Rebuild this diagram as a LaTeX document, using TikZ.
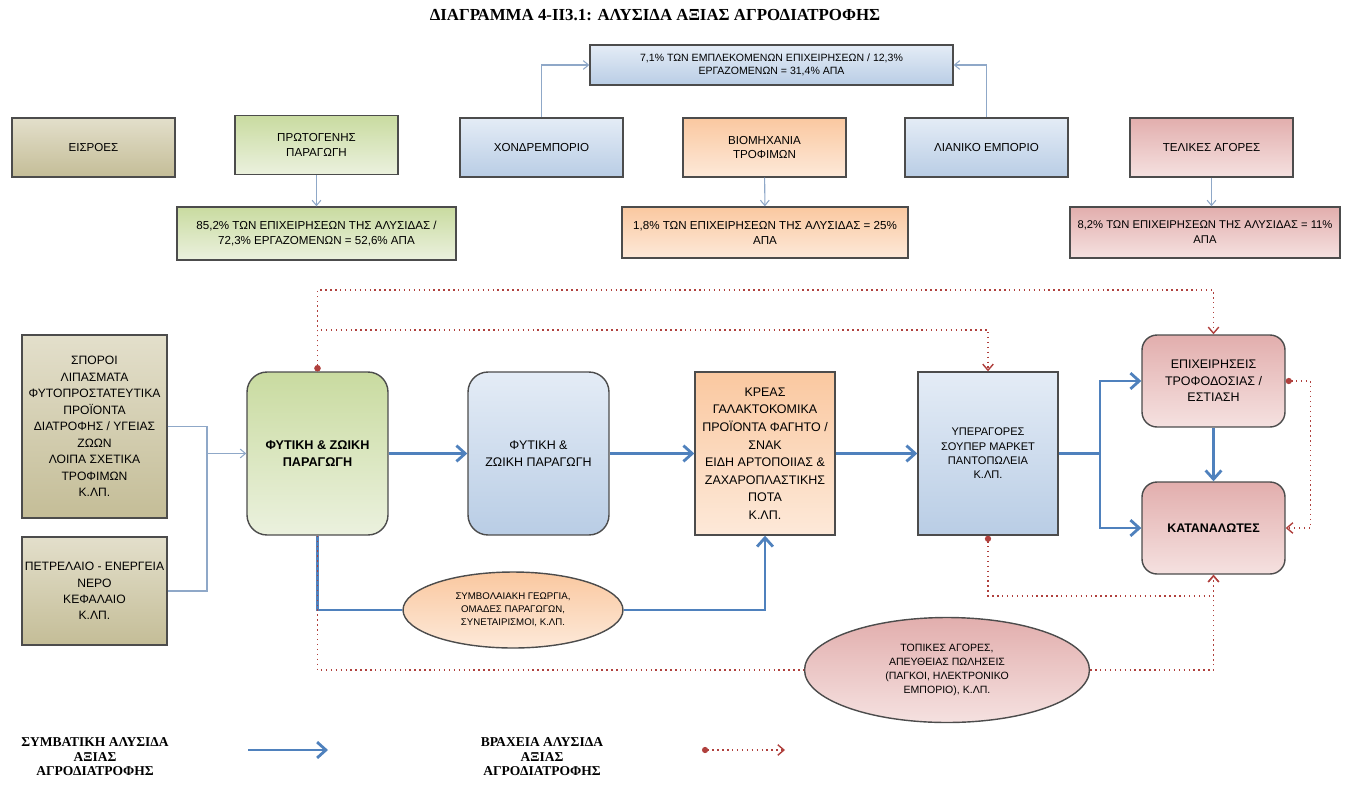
\documentclass[tikz,border=0pt]{standalone}
\usepackage{fontspec}
\setmainfont{Liberation Serif}
\setsansfont{Liberation Sans}
\usetikzlibrary{arrows.meta,shapes.geometric}

\definecolor{tanlight}{HTML}{E3DFCB}
\definecolor{tandark}{HTML}{C4BD97}
\definecolor{greenlight}{HTML}{EBF1DE}
\definecolor{greendark}{HTML}{C9DBA0}
\definecolor{bluelight}{HTML}{E4ECF6}
\definecolor{bluedark}{HTML}{B9CDE5}
\definecolor{orangelight}{HTML}{FDE9D9}
\definecolor{orangedark}{HTML}{FAC8A0}
\definecolor{pinklight}{HTML}{F5E1E0}
\definecolor{pinkdark}{HTML}{E2AEAD}
\definecolor{flowblue}{HTML}{4F81BD}
\definecolor{linkblue}{HTML}{8FA8C8}
\definecolor{shortred}{HTML}{B0403D}

\begin{document}
\begin{tikzpicture}[x=0.02cm, y=-0.02cm,
    box/.style={draw=black!70, line width=0.8pt, align=center,
        font=\sffamily\fontsize{6.6}{8.5}\selectfont, inner sep=2pt},
    tanbox/.style={box, top color=tanlight, bottom color=tandark},
    greenbox/.style={box, top color=greendark, bottom color=greenlight},
    bluebox/.style={box, top color=bluelight, bottom color=bluedark},
    orangebox/.style={box, top color=orangedark, bottom color=orangelight},
    pinkbox/.style={box, top color=pinkdark, bottom color=pinklight},
    topbox/.style={minimum width=3.26cm, minimum height=1.18cm},
    chainbox/.style={minimum width=2.82cm, minimum height=3.26cm},
    flow/.style={draw=flowblue, line width=1.6pt, -{Straight Barb[length=5pt,width=9pt]}},
    link/.style={draw=linkblue, line width=0.6pt},
    linkarrow/.style={link, -{Straight Barb[length=3pt,width=5pt]}},
    shortchain/.style={draw=shortred, line width=0.8pt, dotted,
        {Circle[length=3.5pt]}-{Straight Barb[length=3.5pt,width=6pt]}},
    legend/.style={align=center, font=\rmfamily\bfseries\fontsize{7.7}{8.3}\selectfont}]

    \useasboundingbox (0,0) rectangle (1356,785);

    % titlos
    \node[font=\rmfamily\bfseries\fontsize{9.6}{11}\selectfont] (title) at (655,15)
        {ΔΙΑΓΡΑΜΜΑ 4-ΙΙ3.1: ΑΛΥΣΙΔΑ ΑΞΙΑΣ ΑΓΡΟΔΙΑΤΡΟΦΗΣ};

    % pano seira
    \node[tanbox, topbox] (eisroes) at (93.5,147.5) {ΕΙΣΡΟΕΣ};
    \node[greenbox, topbox] (protog) at (316.5,145) {ΠΡΩΤΟΓΕΝΗΣ\\ΠΑΡΑΓΩΓΗ};
    \node[bluebox, topbox] (xondr) at (541.5,147.5) {ΧΟΝΔΡΕΜΠΟΡΙΟ};
    \node[orangebox, topbox] (viom) at (764.5,147.5) {ΒΙΟΜΗΧΑΝΙΑ\\ΤΡΟΦΙΜΩΝ};
    \node[bluebox, topbox] (lian) at (986.5,147.5) {ΛΙΑΝΙΚΟ ΕΜΠΟΡΙΟ};
    \node[pinkbox, topbox] (telik) at (1211.5,147.5) {ΤΕΛΙΚΕΣ ΑΓΟΡΕΣ};

    % posostа
    \node[bluebox, minimum width=7.26cm, minimum height=0.8cm,
        font=\sffamily\fontsize{6}{7.6}\selectfont] (emporio) at (771.5,65)
        {7,1\% ΤΩΝ ΕΜΠΛΕΚΟΜΕΝΩΝ ΕΠΙΧΕΙΡΗΣΕΩΝ / 12,3\%\\ΕΡΓΑΖΟΜΕΝΩΝ = 31,4\% ΑΠΑ};
    \node[greenbox, minimum width=5.58cm, minimum height=1.06cm] (protogpc) at (316.5,233.5)
        {85,2\% ΤΩΝ ΕΠΙΧΕΙΡΗΣΕΩΝ ΤΗΣ ΑΛΥΣΙΔΑΣ /\\72,3\% ΕΡΓΑΖΟΜΕΝΩΝ = 52,6\% ΑΠΑ};
    \node[orangebox, minimum width=5.72cm, minimum height=1.02cm] (viompc) at (765,232.5)
        {1,8\% ΤΩΝ ΕΠΙΧΕΙΡΗΣΕΩΝ ΤΗΣ ΑΛΥΣΙΔΑΣ = 25\%\\ΑΠΑ};
    \node[pinkbox, minimum width=5.4cm, minimum height=1.02cm,
        font=\sffamily\fontsize{6.4}{8.5}\selectfont] (telikpc) at (1205,232.5)
        {8,2\% ΤΩΝ ΕΠΙΧΕΙΡΗΣΕΩΝ ΤΗΣ ΑΛΥΣΙΔΑΣ = 11\%\\ΑΠΑ};

    \draw[linkarrow] (protog) -- (protogpc);
    \draw[linkarrow] (viom) -- (viompc);
    \draw[linkarrow] (telik.south) -- (telik.south |- telikpc.north);
    \draw[linkarrow] (xondr.north) |- (emporio.west);
    \draw[linkarrow] (lian.north) |- (emporio.east);

    % kato: eisroes
    \node[tanbox, minimum width=2.9cm, minimum height=3.66cm, inner xsep=1pt,
        font=\sffamily\fontsize{6.9}{9.4}\selectfont] (sporoi) at (94.5,426.5)
        {ΣΠΟΡΟΙ\\ΛΙΠΑΣΜΑΤΑ\\ΦΥΤΟΠΡΟΣΤΑΤΕΥΤΙΚΑ\\ΠΡΟΪΟΝΤΑ\\ΔΙΑΤΡΟΦΗΣ / ΥΓΕΙΑΣ\\ΖΩΩΝ\\ΛΟΙΠΑ ΣΧΕΤΙΚΑ\\ΤΡΟΦΙΜΩΝ\\Κ.ΛΠ.};
    \node[tanbox, minimum width=2.9cm, minimum height=2.16cm, inner xsep=1pt,
        font=\sffamily\fontsize{6.9}{9.2}\selectfont] (petrel) at (94.5,591)
        {ΠΕΤΡΕΛΑΙΟ - ΕΝΕΡΓΕΙΑ\\ΝΕΡΟ\\ΚΕΦΑΛΑΙΟ\\Κ.ΛΠ.};

    % kato: alysida
    \node[greenbox, chainbox, rounded corners=0.4cm, font=\sffamily\bfseries\fontsize{7.2}{9.5}\selectfont]
        (fytiki) at (317.5,453.5) {ΦΥΤΙΚΗ \& ΖΩΙΚΗ\\ΠΑΡΑΓΩΓΗ};
    \node[bluebox, chainbox, rounded corners=0.4cm, font=\sffamily\fontsize{7.1}{9.5}\selectfont]
        (fytiki2) at (538.5,453.5) {ΦΥΤΙΚΗ \&\\ΖΩΙΚΗ ΠΑΡΑΓΩΓΗ};
    \node[orangebox, chainbox, minimum width=2.8cm, font=\sffamily\fontsize{7.1}{10}\selectfont]
        (kreas) at (765,453.5)
        {ΚΡΕΑΣ\\ΓΑΛΑΚΤΟΚΟΜΙΚΑ\\ΠΡΟΪΟΝΤΑ ΦΑΓΗΤΟ /\\ΣΝΑΚ\\ΕΙΔΗ ΑΡΤΟΠΟΙΙΑΣ \&\\ΖΑΧΑΡΟΠΛΑΣΤΙΚΗΣ\\ΠΟΤΑ\\Κ.ΛΠ.};
    \node[bluebox, chainbox, minimum width=2.8cm, font=\sffamily\fontsize{6.3}{8.2}\selectfont]
        (yperag) at (988,453.5) {ΥΠΕΡΑΓΟΡΕΣ\\ΣΟΥΠΕΡ ΜΑΡΚΕΤ\\ΠΑΝΤΟΠΩΛΕΙΑ\\Κ.ΛΠ.};
    \node[pinkbox, rounded corners=0.3cm, minimum width=2.86cm, minimum height=1.84cm,
        font=\sffamily\fontsize{7.1}{9.5}\selectfont] (trofod) at (1213.5,381)
        {ΕΠΙΧΕΙΡΗΣΕΙΣ\\ΤΡΟΦΟΔΟΣΙΑΣ /\\ΕΣΤΙΑΣΗ};
    \node[pinkbox, rounded corners=0.3cm, minimum width=2.86cm, minimum height=1.84cm,
        font=\sffamily\bfseries\fontsize{7.1}{9}\selectfont] (katanal) at (1213.5,528) {ΚΑΤΑΝΑΛΩΤΕΣ};
    \node[orangebox, ellipse, minimum width=4.4cm, minimum height=1.52cm,
        font=\sffamily\fontsize{5.5}{7.3}\selectfont] (symvol) at (513,610)
        {ΣΥΜΒΟΛΑΙΑΚΗ ΓΕΩΡΓΙΑ,\\ΟΜΑΔΕΣ ΠΑΡΑΓΩΓΩΝ,\\ΣΥΝΕΤΑΙΡΙΣΜΟΙ, Κ.ΛΠ.};
    \node[pinkbox, ellipse, minimum width=5.7cm, minimum height=2.1cm,
        font=\sffamily\fontsize{6}{8}\selectfont] (topikes) at (947,670)
        {ΤΟΠΙΚΕΣ ΑΓΟΡΕΣ,\\ΑΠΕΥΘΕΙΑΣ ΠΩΛΗΣΕΙΣ\\(ΠΑΓΚΟΙ, ΗΛΕΚΤΡΟΝΙΚΟ\\ΕΜΠΟΡΙΟ), Κ.ΛΠ.};

    % eisroes sti fytiki paragogi
    \coordinate (merge) at (207,453.5);
    \draw[link] (sporoi.east) -| (merge);
    \draw[link] (petrel.east) -| (merge);
    \draw[linkarrow] (merge) -- (fytiki.west);

    % symvatiki alysida
    \draw[flow] (fytiki) -- (fytiki2);
    \draw[flow] (fytiki2) -- (kreas);
    \draw[flow] (kreas) -- (yperag);
    \coordinate (split) at (1100,453.5);
    \draw[draw=flowblue, line width=1.6pt] (yperag.east) -- (split);
    \draw[flow] (split) |- (trofod.west);
    \draw[flow] (split) |- (katanal.west);
    \draw[flow] (trofod) -- (katanal);
    \draw[draw=flowblue, line width=1.6pt] (fytiki.south) |- (symvol.west);
    \draw[flow] (symvol.east) -| (kreas.south);

    % vraxeia alysida
    \coordinate (high) at (317.5,290);
    \coordinate (low) at (317.5,330);
    \draw[shortchain] (fytiki.north) -- (high) -| (trofod.north);
    \draw[shortchain] (fytiki.north) -- (low) -| (yperag.north);
    \coordinate (under) at (988,596);
    \draw[shortchain] (yperag.south) -- (under) -| (katanal.south);
    \draw[shortchain] (trofod.east) -- ++(25,0) |- (katanal.east);
    \coordinate (bottom) at (317.5,670);
    \draw[shortchain, -] (fytiki.south) -- (bottom) -- (topikes.west);
    \draw[shortchain, {}-{Straight Barb[length=3.5pt,width=6pt]}] (topikes.east) -| (katanal.south);

    % ypomnima
    \node[legend] (legsymv) at (95,757) {ΣΥΜΒΑΤΙΚΗ ΑΛΥΣΙΔΑ\\ΑΞΙΑΣ\\ΑΓΡΟΔΙΑΤΡΟΦΗΣ};
    \coordinate (legA) at (248,750);
    \coordinate (legB) at (328,750);
    \draw[flow] (legA) -- (legB);
    \node[legend] (legvrax) at (542,757) {ΒΡΑΧΕΙΑ ΑΛΥΣΙΔΑ\\ΑΞΙΑΣ\\ΑΓΡΟΔΙΑΤΡΟΦΗΣ};
    \coordinate (legC) at (702,750);
    \coordinate (legD) at (785,750);
    \draw[shortchain] (legC) -- (legD);
\end{tikzpicture}
\end{document}
